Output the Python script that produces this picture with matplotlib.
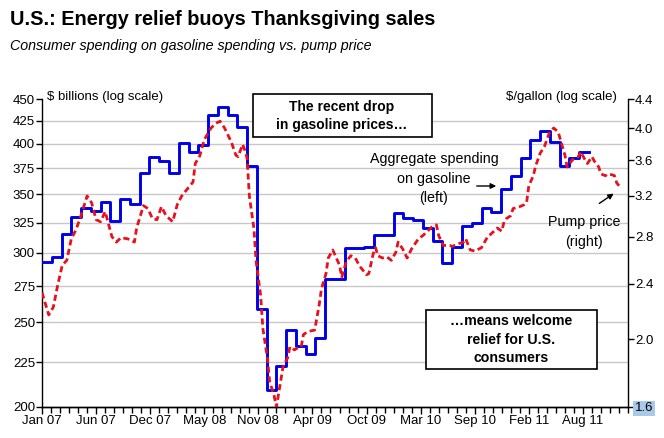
import matplotlib
matplotlib.use('Agg')
import matplotlib.pyplot as plt
from matplotlib.patches import Rectangle
from matplotlib.ticker import FixedLocator, NullLocator

plt.rcParams['font.family'] = ['Liberation Sans', 'DejaVu Sans']

# monthly gasoline spending, $ billions, Jan 07 .. Aug 11
spend = [293, 297, 315, 330, 338, 335, 343, 326, 346, 341, 370, 386,
         382, 370, 401, 391, 399, 432, 441, 432, 418, 377.5, 258.6, 209,
         223, 245, 235, 230, 240, 280, 280, 304, 304, 305, 314.5, 314.5,
         333.7, 329.3, 327.2, 320.8, 310, 292.4, 305, 321.7, 324.3, 338, 334.3, 355,
         367.7, 385.6, 404, 414, 402, 377, 385.6, 391.7]

# pump price, $/gallon, weeks since Jan 07
price_wk = [0, 3, 5, 7, 9, 11, 13, 15, 17, 20, 22, 24, 26, 28, 29, 31, 33, 35, 38, 41,
            42, 45, 47, 49, 51, 53, 55, 58, 60, 62, 64, 67, 68, 70, 72, 75, 77, 79, 81, 84,
            86, 87, 89, 90, 91, 92, 94, 95, 97, 98, 100, 101, 103, 104, 106, 107, 109, 110, 112, 113,
            115, 116, 118, 121, 123, 124, 126, 127, 129, 132, 133, 135, 137, 139, 141, 144, 145, 147, 148, 149,
            151, 153, 155, 157, 158, 160, 162, 164, 167, 169, 171, 173, 175, 176, 178, 181, 182, 184, 187, 188,
            190, 192, 194, 195, 198, 199, 201, 202, 204, 205, 206, 208, 209, 212, 214, 215, 216, 218, 219, 221,
            223, 225, 227, 229, 230, 232, 233, 235, 236, 238, 239, 241, 242, 244, 245, 247, 248, 250, 251, 253,
            254, 255, 257]
price = [2.33, 2.165, 2.22, 2.39, 2.55, 2.59, 2.78, 2.86, 2.98, 3.20, 3.13, 2.96, 2.94, 3.04, 2.96, 2.80, 2.75, 2.79, 2.78, 2.75,
         2.88, 3.10, 3.07, 2.97, 2.96, 3.09, 3.00, 2.94, 3.11, 3.20, 3.26, 3.35, 3.56, 3.65, 3.85, 4.00, 4.06, 4.09, 4.00, 3.82,
         3.66, 3.64, 3.79, 3.72, 3.62, 3.20, 2.88, 2.58, 2.31, 2.07, 1.88, 1.74, 1.66, 1.60, 1.75, 1.83, 1.88, 1.95, 1.93, 1.94,
         1.95, 2.03, 2.05, 2.06, 2.24, 2.36, 2.48, 2.61, 2.68, 2.55, 2.45, 2.58, 2.63, 2.61, 2.54, 2.47, 2.48, 2.65, 2.70, 2.63,
         2.61, 2.62, 2.59, 2.66, 2.75, 2.69, 2.61, 2.69, 2.78, 2.81, 2.85, 2.89, 2.91, 2.81, 2.72, 2.72, 2.71, 2.73, 2.75, 2.78,
         2.68, 2.67, 2.69, 2.70, 2.81, 2.82, 2.86, 2.88, 2.85, 2.94, 2.97, 3.00, 3.07, 3.09, 3.11, 3.13, 3.31, 3.42, 3.53, 3.68,
         3.77, 3.93, 4.00, 3.95, 3.85, 3.66, 3.52, 3.59, 3.62, 3.64, 3.70, 3.60, 3.56, 3.64, 3.59, 3.52, 3.44, 3.42, 3.44, 3.43,
         3.42, 3.34, 3.28]

left_ticks = [200, 225, 250, 275, 300, 325, 350, 375, 400, 425, 450]
right_ticks = [1.6, 2.0, 2.4, 2.8, 3.2, 3.6, 4.0, 4.4]
x_labels = ['Jan 07', 'Jun 07', 'Dec 07', 'May 08', 'Nov 08', 'Apr 09',
            'Oct 09', 'Mar 10', 'Sep 10', 'Feb 11', 'Aug 11']

W, H = 664, 438
fig = plt.figure(figsize=(W / 100, H / 100), dpi=100)

def fx(x):
    return x / W

def fy(y):
    return 1 - y / H

ax = fig.add_axes([fx(42), fy(407), (628 - 42) / W, (407 - 99) / H])
ax2 = ax.twinx()

# spending as monthly steps
sx = [m * 52 / 12 for m in range(len(spend) + 1)]
sy = spend + [spend[-1]]
ax.plot(sx, sy, color='#0000e6', lw=2.1, drawstyle='steps-post', zorder=3)
for v in left_ticks[1:-1]:
    ax.axhline(v, color='#c8c8c8', lw=1, zorder=1)

ax2.plot(price_wk, price, color='#e8101c', lw=2.0, dashes=(2.2, 1.3), zorder=3)

ax.set_yscale('log')
ax.set_ylim(200, 450)
ax.yaxis.set_major_locator(FixedLocator(left_ticks))
ax.yaxis.set_minor_locator(NullLocator())
ax.set_yticklabels([str(v) for v in left_ticks])

ax2.set_yscale('log')
ax2.set_ylim(1.6, 4.4)
ax2.yaxis.set_major_locator(FixedLocator(right_ticks))
ax2.yaxis.set_minor_locator(NullLocator())
ax2.set_yticklabels(['%.1f' % v for v in right_ticks])

ax.set_xlim(0, 260)
ax.xaxis.set_major_locator(FixedLocator(list(range(0, 241, 24))))
ax.xaxis.set_minor_locator(FixedLocator(list(range(0, 261, 4))))
ax.set_xticklabels(x_labels)

for a in (ax, ax2):
    a.spines['top'].set_visible(False)
    for s in a.spines.values():
        s.set_linewidth(1.0)
ax2.spines['left'].set_visible(False)
ax.spines['right'].set_visible(False)

ax.tick_params(axis='x', which='major', length=5, width=1, labelsize=9.5, pad=1)
ax.tick_params(axis='x', which='minor', length=4, width=1)
ax.tick_params(axis='y', length=4, width=1, labelsize=9.5, pad=1)
ax2.tick_params(axis='y', length=4, width=1, labelsize=9.5, pad=1)
ax2.get_yticklabels()[0].set_bbox(dict(facecolor='#a9c9e8', edgecolor='none', pad=1))

# titles
fig.text(fx(10), fy(25), 'U.S.: Energy relief buoys Thanksgiving sales',
         fontsize=14.3, fontweight='bold', ha='left', va='baseline')
fig.text(fx(10), fy(50), 'Consumer spending on gasoline spending vs. pump price',
         fontsize=10.3, style='italic', ha='left', va='baseline')

fig.text(fx(47), fy(100), '$ billions (log scale)', fontsize=9.5, ha='left', va='baseline')
fig.text(fx(617), fy(100), '$/gallon (log scale)', fontsize=9.5, ha='right', va='baseline')

# annotation boxes
for x0, y0, x1, y1 in [(253, 94, 432, 137), (426, 310, 597, 369)]:
    fig.patches.append(Rectangle((fx(x0), fy(y1)), (x1 - x0) / W, (y1 - y0) / H,
                                 transform=fig.transFigure, facecolor='white',
                                 edgecolor='black', lw=1.2, zorder=5))
fig.text(fx(342), fy(116), 'The recent drop\nin gasoline prices\u2026', fontsize=10,
         fontweight='bold', ha='center', va='center', linespacing=1.4, zorder=6)
fig.text(fx(511), fy(339.5), '\u2026means welcome\nrelief for U.S.\nconsumers', fontsize=10.2,
         fontweight='bold', ha='center', va='center', linespacing=1.45, zorder=6)

fig.text(fx(434), fy(178.5), 'Aggregate spending\non gasoline\n(left)', fontsize=10.3,
         ha='center', va='center', linespacing=1.5)
fig.text(fx(584), fy(232), 'Pump price\n(right)', fontsize=10.3,
         ha='center', va='center', linespacing=1.5)

ax.annotate('', xy=(fx(499), fy(186)), xytext=(fx(474), fy(186)),
            xycoords='figure fraction', textcoords='figure fraction',
            arrowprops=dict(arrowstyle='-|>', color='black', lw=1, mutation_scale=8))
ax.annotate('', xy=(fx(616), fy(192)), xytext=(fx(597), fy(205)),
            xycoords='figure fraction', textcoords='figure fraction',
            arrowprops=dict(arrowstyle='-|>', color='black', lw=1, mutation_scale=8))

fig.savefig('out.png', dpi=100)
